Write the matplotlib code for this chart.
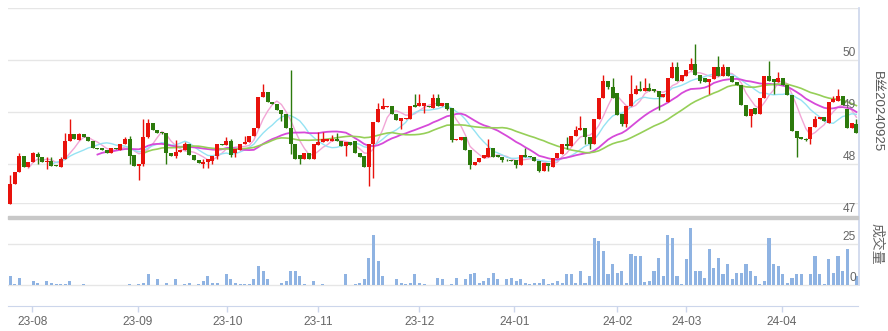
import numpy as np
import pandas as pd
import matplotlib
matplotlib.use('Agg')
import matplotlib.pyplot as plt
from matplotlib.patches import Rectangle
from matplotlib.lines import Line2D

    ## data ##

opens = [47.24, 47.61, 47.84, 48.15, 47.94, 48.03, 48.19, 48.14, 48.03, 48.05,
         47.98, 47.95, 48.10, 48.44, 48.57, 48.46, 48.57, 48.52, 48.44, 48.31,
         48.30, 48.27, 48.21, 48.31, 48.26, 48.38, 48.48, 48.17, 47.96, 48.00,
         48.52, 48.78, 48.65, 48.61, 48.59, 48.21, 48.15, 48.23, 48.26, 48.38,
         48.17, 48.08, 48.00, 48.04, 48.06, 48.16, 48.38, 48.36, 48.44, 48.22,
         48.26, 48.38, 48.42, 48.53, 48.69, 49.28, 49.38, 49.19, 49.15, 49.04,
         48.96, 48.69, 48.38, 48.17, 48.10, 48.22, 48.10, 48.37, 48.42, 48.44,
         48.44, 48.48, 48.44, 48.35, 48.42, 48.44, 48.21, 48.16, 47.94, 48.38,
         48.80, 49.06, 49.09, 49.12, 48.97, 48.83, 48.86, 48.87, 49.13, 49.11,
         49.11, 49.12, 49.07, 49.26, 49.11, 49.17, 49.08, 48.46, 48.47, 48.51,
         48.26, 47.99, 48.04, 48.11, 48.14, 48.31, 48.17, 48.13, 48.08, 48.08,
         48.08, 47.99, 48.17, 48.16, 48.13, 48.05, 47.87, 48.01, 47.95, 48.12,
         48.20, 48.38, 48.35, 48.53, 48.65, 48.69, 48.51, 48.38, 48.87, 49.26,
         49.59, 49.49, 49.36, 48.96, 48.77, 49.12, 49.35, 49.44, 49.40, 49.46,
         49.44, 49.40, 49.28, 49.19, 49.65, 49.86, 49.60, 49.70, 49.81, 49.92,
         49.72, 49.65, 49.58, 49.63, 49.86, 49.70, 49.86, 49.70, 49.57, 49.51,
         49.13, 48.92, 49.08, 48.96, 49.27, 49.70, 49.63, 49.58, 49.65, 49.52,
         49.33, 48.64, 48.51, 48.48, 48.48, 48.71, 48.87, 48.90, 48.78, 49.19,
         49.22, 49.31, 49.06, 48.69, 48.77]
highs = [47.79, 47.84, 48.21, 48.15, 48.03, 48.23, 48.24, 48.14, 48.13, 48.14,
         47.98, 48.13, 48.59, 48.87, 48.57, 48.59, 48.57, 48.52, 48.44, 48.31,
         48.30, 48.27, 48.30, 48.31, 48.38, 48.51, 48.53, 48.17, 48.00, 48.87,
         48.87, 48.78, 48.65, 48.62, 48.59, 48.21, 48.47, 48.27, 48.42, 48.38,
         48.17, 48.08, 48.09, 48.09, 48.16, 48.38, 48.38, 48.51, 48.48, 48.28,
         48.38, 48.53, 48.53, 48.69, 49.29, 49.54, 49.38, 49.19, 49.15, 49.04,
         48.96, 49.81, 48.38, 48.17, 48.22, 48.22, 48.38, 48.62, 48.62, 48.48,
         48.55, 48.59, 48.44, 48.42, 48.42, 48.44, 48.21, 48.16, 48.38, 48.80,
         49.17, 49.26, 49.12, 49.12, 48.97, 48.88, 48.88, 49.12, 49.35, 49.35,
         49.17, 49.12, 49.35, 49.35, 49.17, 49.17, 49.08, 48.48, 48.51, 48.51,
         48.26, 48.04, 48.11, 48.17, 48.48, 48.31, 48.17, 48.13, 48.10, 48.08,
         48.08, 48.17, 48.31, 48.16, 48.13, 48.05, 48.01, 48.01, 48.12, 48.21,
         48.38, 48.51, 48.53, 48.74, 48.92, 48.69, 48.51, 48.87, 49.26, 49.71,
         49.59, 49.65, 49.36, 48.96, 49.12, 49.71, 49.52, 49.60, 49.65, 49.56,
         49.44, 49.40, 49.35, 49.65, 49.96, 49.96, 49.72, 49.81, 50.03, 50.31,
         49.72, 49.65, 49.63, 49.86, 50.08, 49.92, 49.86, 49.70, 49.57, 49.51,
         49.13, 49.06, 49.08, 49.27, 49.70, 49.99, 49.63, 49.76, 49.65, 49.52,
         49.33, 48.64, 48.51, 48.50, 48.71, 48.92, 48.90, 48.90, 49.19, 49.31,
         49.44, 49.31, 49.06, 48.78, 48.87]
lows = [47.24, 47.61, 47.84, 47.94, 47.94, 48.03, 48.00, 48.03, 47.90, 47.96,
        47.96, 47.95, 48.10, 48.44, 48.48, 48.46, 48.51, 48.44, 48.30, 48.29,
        48.26, 48.21, 48.21, 48.28, 48.26, 48.38, 48.00, 47.96, 47.70, 47.96,
        48.50, 48.65, 48.59, 48.57, 48.00, 48.16, 48.12, 48.23, 48.26, 48.17,
        48.08, 48.02, 47.92, 47.92, 48.00, 48.10, 48.36, 48.36, 48.14, 48.14,
        48.26, 48.38, 48.42, 48.53, 48.69, 49.28, 49.19, 49.15, 49.04, 48.83,
        48.69, 48.19, 48.10, 48.00, 48.10, 48.10, 48.10, 48.37, 48.42, 48.44,
        48.44, 48.44, 48.35, 48.16, 48.36, 48.21, 48.13, 47.94, 47.57, 47.74,
        48.80, 49.06, 49.09, 48.97, 48.85, 48.67, 48.86, 48.87, 49.10, 49.11,
        48.99, 49.09, 49.07, 49.12, 49.11, 49.03, 48.43, 48.46, 48.47, 48.26,
        47.90, 47.99, 48.04, 48.11, 48.14, 48.14, 48.13, 48.04, 48.06, 48.06,
        47.92, 47.99, 48.14, 48.13, 48.05, 47.84, 47.87, 47.86, 47.95, 48.12,
        48.20, 48.29, 48.35, 48.53, 48.65, 48.38, 48.28, 48.38, 48.87, 49.26,
        49.44, 49.26, 48.95, 48.74, 48.72, 49.12, 49.35, 49.40, 49.40, 49.41,
        49.38, 49.03, 49.28, 49.19, 49.65, 49.60, 49.60, 49.70, 49.81, 49.72,
        49.56, 49.58, 49.35, 49.63, 49.70, 49.70, 49.70, 49.57, 49.51, 49.13,
        48.92, 48.72, 48.96, 48.96, 49.27, 49.60, 49.35, 49.58, 49.52, 49.33,
        48.64, 48.13, 48.48, 48.45, 48.38, 48.71, 48.87, 48.83, 48.78, 49.19,
        49.22, 49.13, 48.69, 48.69, 48.59]
closes = [47.62, 47.84, 48.15, 47.94, 48.03, 48.21, 48.14, 48.03, 48.06, 47.96,
          47.96, 48.10, 48.44, 48.57, 48.48, 48.57, 48.51, 48.44, 48.30, 48.29,
          48.26, 48.21, 48.30, 48.28, 48.38, 48.48, 48.16, 47.96, 48.00, 48.52,
          48.78, 48.65, 48.59, 48.59, 48.21, 48.16, 48.23, 48.27, 48.38, 48.17,
          48.08, 48.02, 48.03, 48.09, 48.16, 48.38, 48.36, 48.44, 48.17, 48.28,
          48.38, 48.42, 48.53, 48.69, 49.29, 49.38, 49.19, 49.15, 49.04, 48.96,
          48.69, 48.38, 48.10, 48.10, 48.22, 48.10, 48.38, 48.42, 48.48, 48.48,
          48.48, 48.44, 48.35, 48.42, 48.36, 48.21, 48.13, 47.94, 48.38, 48.80,
          49.06, 49.11, 49.12, 48.97, 48.85, 48.88, 48.88, 49.12, 49.10, 49.17,
          49.17, 49.09, 49.26, 49.12, 49.17, 49.06, 48.46, 48.48, 48.51, 48.26,
          47.99, 48.04, 48.11, 48.17, 48.31, 48.14, 48.13, 48.08, 48.07, 48.06,
          47.99, 48.17, 48.14, 48.13, 48.05, 47.87, 48.01, 47.97, 48.12, 48.21,
          48.38, 48.35, 48.53, 48.65, 48.69, 48.51, 48.38, 48.87, 49.26, 49.59,
          49.49, 49.26, 48.95, 48.77, 49.12, 49.35, 49.44, 49.40, 49.46, 49.41,
          49.40, 49.28, 49.35, 49.65, 49.86, 49.60, 49.72, 49.81, 49.92, 49.72,
          49.60, 49.58, 49.63, 49.86, 49.70, 49.86, 49.70, 49.57, 49.51, 49.13,
          48.92, 49.06, 48.96, 49.27, 49.70, 49.60, 49.58, 49.65, 49.52, 49.33,
          48.64, 48.50, 48.48, 48.46, 48.71, 48.87, 48.90, 48.83, 49.19, 49.25,
          49.31, 49.13, 48.69, 48.78, 48.59]
volume = [5.5, 0.6, 4.3, 0, 0, 2.4, 1.2, 0, 2.4, 1.2,
          0.6, 0.6, 0.6, 2.4, 0, 0, 0.6, 0, 0, 0,
          0, 0, 0, 0, 0, 0, 0.6, 0, 0.6, 1.2,
          6.7, 0, 3.7, 0, 1.2, 0, 3.7, 0, 0.6, 1.2,
          0, 0.6, 2.4, 5.5, 1.2, 1.2, 0, 6.7, 3.7, 1.2,
          0.6, 0.6, 0.6, 3.7, 11.6, 8.5, 3.7, 0, 0, 1.2,
          2.4, 8.5, 8.5, 5.5, 0.6, 0, 2.4, 0, 0.6, 0,
          0, 0, 0, 6.7, 0, 0.6, 1.2, 3.7, 16.4, 30.4,
          14.6, 5.5, 0, 0, 3.7, 1.2, 0.6, 1.2, 6.7, 1.2,
          0.6, 0, 0, 4.3, 3.7, 0, 0.6, 4.3, 0, 3.7,
          6.7, 7.3, 1.2, 2.4, 4.3, 7.3, 3.7, 0, 3.7, 4.3,
          2.4, 3.7, 1.2, 0.6, 1.2, 1.2, 3.7, 0.6, 1.2, 2.4,
          1.2, 6.7, 6.7, 1.2, 8.5, 1.2, 5.5, 28.6, 26.8, 20.7,
          6.7, 12.8, 7.3, 8.5, 1.2, 18.9, 17.7, 17.7, 1.8, 2.4,
          8.5, 16.4, 5.5, 30.4, 28.6, 5.5, 0.6, 15.8, 34.7, 8.5,
          8.5, 4.3, 21.9, 10.4, 16.4, 6.7, 12.8, 3.7, 7.3, 7.3,
          12.8, 8.5, 5.5, 0.6, 2.4, 28.6, 12.8, 11.6, 6.7, 1.2,
          4.3, 6.7, 6.7, 0, 6.7, 17.7, 6.7, 0.6, 15.8, 7.3,
          17.7, 8.5, 21.9, 0, 5.5]

month_labels = ['23-08', '23-09', '23-10', '23-11', '23-12', '24-01', '24-02', '24-03', '24-04']
month_pos = [4.8, 27.8, 47.2, 67.0, 89.0, 109.6, 132.0, 147.0, 167.8]
price_ticks = [47, 48, 49, 50]
vol_ticks = [0, 25]
title_text = 'B丝20240925'
vol_text = '成交量'

    ## figure setup ##

W, H = 888, 331
fig = plt.figure(figsize=(W / 100, H / 100), dpi=100)
fig.patch.set_facecolor('white')

def box(x0, y0, x1, y1):
    # pixel box (top-left origin) -> figure fraction
    return [x0 / W, 1 - y1 / H, (x1 - x0) / W, (y1 - y0) / H]

n = len(closes)
vol = (volume + [0] * n)[:n]
x = np.arange(n)
o = np.array(opens); h = np.array(highs); l = np.array(lows); c = np.array(closes)

RED = '#e8120c'
GREEN = '#2c7a0c'
GRID = '#e6e6e6'
AXIS = '#ccd6eb'
TXT = '#666666'
NUM_FONT = ['Liberation Sans', 'DejaVu Sans']
CJK_FONT = ['Noto Sans CJK SC', 'DejaVu Sans']

xlim = (-0.45, n - 0.65)

axv = fig.add_axes(box(8, 203, 858, 306))
ax = fig.add_axes(box(8, 8, 858, 216))
for a in (ax, axv):
    a.set_facecolor('none')
    a.set_xlim(*xlim)
    for s in a.spines.values():
        s.set_visible(False)
    a.set_yticks([])

    ## price pane ##

ax.set_ylim(47, 51)
ax.set_xticks([])
for p in [48, 49, 50, 51]:
    ax.axhline(p, color=GRID, lw=1, zorder=0)

# moving averages 5 / 10 / 20 / 30
ma_specs = [(5, '#f2a6d6', 1.0), (10, '#95e3f3', 1.0), (20, '#d64ad9', 1.3), (30, '#96cf58', 1.2)]
cs = pd.Series(c)
for win, col, lw in ma_specs:
    ax.plot(x, cs.rolling(win).mean(), color=col, lw=lw, zorder=2)

up = c >= o
colors = np.where(up, RED, GREEN)
ax.vlines(x, l, h, colors=colors, lw=1, zorder=3)
body = np.maximum(np.abs(c - o), 0.015)
ax.bar(x, body, bottom=np.minimum(o, c), width=0.88, color=colors, lw=0, zorder=4)

for p in price_ticks:
    ax.text((856 - 8) / 850, p + 0.02, str(p), transform=ax.get_yaxis_transform(),
            ha='right', va='bottom', fontsize=8.6, color=TXT, family=NUM_FONT)

    ## volume pane ##

axv.set_ylim(-12.8, 50)
for v in [0, 25, 50]:
    axv.axhline(v, color=GRID, lw=1, zorder=0)
axv.bar(x, vol, width=0.66, color='#8fb3e2', lw=0, zorder=2)
for v in vol_ticks:
    axv.text((856 - 8) / 850, v + 0.6, str(v), transform=axv.get_yaxis_transform(),
             ha='right', va='bottom', fontsize=8.6, color=TXT, family=NUM_FONT)

axv.spines['bottom'].set_visible(True)
axv.spines['bottom'].set_color(AXIS)
axv.set_xticks(month_pos)
axv.set_xticklabels(month_labels, fontsize=8.6, color=TXT, family=NUM_FONT)
axv.tick_params(axis='x', color=AXIS, length=4, width=1, pad=3)

    ## separators and side labels ##

fig.patches.append(Rectangle((8 / W, 1 - 218.7 / H), 850 / W, 3.2 / H,
                             transform=fig.transFigure, color='#c8c8c8', zorder=5))
fig.lines.append(Line2D([858.5 / W, 858.5 / W], [1 - 8 / H, 1 - 285 / H],
                        transform=fig.transFigure, color=AXIS, lw=1.2))

fig.text(877 / W, 1 - 112 / H, title_text, rotation=-90, ha='center', va='center',
         fontsize=9.5, color='#555555', family=['Liberation Sans', 'Noto Sans CJK SC'])
fig.text(877 / W, 1 - 244 / H, vol_text, rotation=-90, ha='center', va='center',
         fontsize=10, color=TXT, family=CJK_FONT)

fig.savefig('out.png', dpi=100)
